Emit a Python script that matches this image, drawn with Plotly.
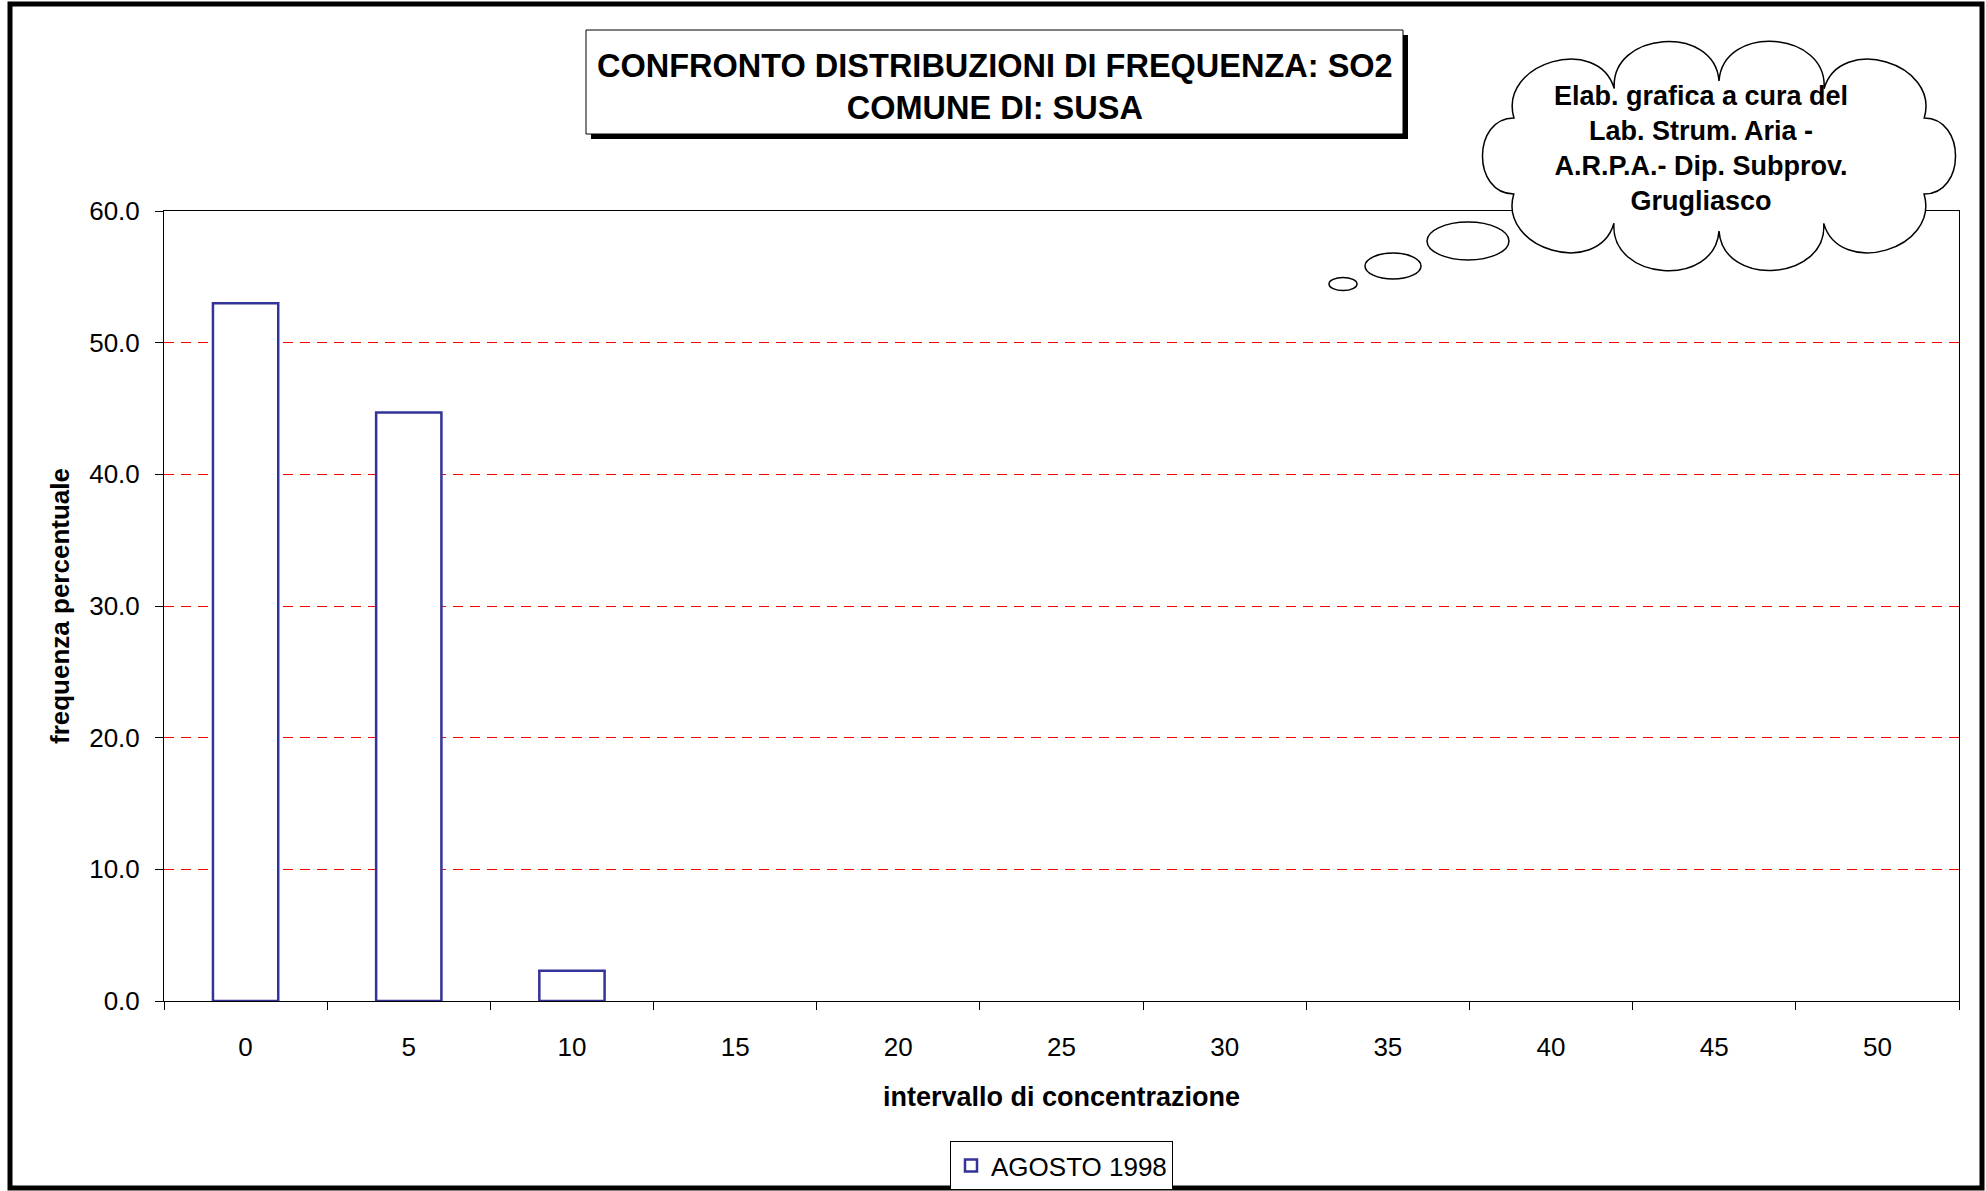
import math
import plotly.graph_objects as go

# ---- data ----
categories = ["0", "5", "10", "15", "20", "25", "30", "35", "40", "45", "50"]
freq_agosto_1998 = [53.0, 44.7, 2.3, 0, 0, 0, 0, 0, 0, 0, 0]
series_name = "AGOSTO 1998"
y_ticks = [0, 10, 20, 30, 40, 50, 60]
title_lines = ["CONFRONTO DISTRIBUZIONI DI FREQUENZA: SO2", "COMUNE DI: SUSA"]
cloud_lines = ["Elab. grafica a cura del", "Lab. Strum. Aria -", "A.R.P.A.- Dip. Subprov.", "Grugliasco"]
x_title = "intervallo di concentrazione"
y_title = "frequenza percentuale"

W, H = 1986, 1191
L, R, T, B = 164, 27, 211, 190
PW, PH = W - L - R, H - T - B
BOT = H - B

def px(x):
    return (x - L) / PW

def py(y):
    return (BOT - y) / PH

FONT = "Liberation Sans, Arial, sans-serif"
BLUE = "#333399"

fig = go.Figure()
fig.add_trace(go.Bar(
    x=categories,
    y=[v if v else None for v in freq_agosto_1998],
    name=series_name,
    marker=dict(color="white", line=dict(color=BLUE, width=2.5)),
    showlegend=True,
))

shapes = []
# outer frame
shapes.append(dict(type="rect", xref="paper", yref="paper",
                   x0=px(10), x1=px(1982), y0=py(4), y1=py(1188),
                   line=dict(color="black", width=5), fillcolor="rgba(0,0,0,0)", layer="above"))
# title box shadow + box
shapes.append(dict(type="rect", xref="paper", yref="paper",
                   x0=px(591), x1=px(1408), y0=py(35), y1=py(139),
                   line=dict(width=0), fillcolor="black", layer="above"))
shapes.append(dict(type="rect", xref="paper", yref="paper",
                   x0=px(586), x1=px(1403), y0=py(30), y1=py(134),
                   line=dict(color="black", width=1), fillcolor="white", layer="above"))

# cloud callout: scalloped ellipse, base points at equal arc length
cx, cy, rx, ry = 1719, 156, 238, 75
NB = 10
samples = 4000
ts = [2 * math.pi * i / samples for i in range(samples + 1)]
cum = [0.0]
for i in range(1, len(ts)):
    x0_, y0_ = rx * math.cos(ts[i - 1]), ry * math.sin(ts[i - 1])
    x1_, y1_ = rx * math.cos(ts[i]), ry * math.sin(ts[i])
    cum.append(cum[-1] + math.hypot(x1_ - x0_, y1_ - y0_))
total = cum[-1]
targets = sorted(((b + 0.5) / NB) * total for b in range(NB))
base_t = []
j = 0
for target in targets:
    while j < len(cum) - 1 and cum[j] < target:
        j += 1
    base_t.append(ts[j])
pts = [(cx + rx * math.cos(t), cy + ry * math.sin(t)) for t in base_t]
path = "M %.5f,%.5f" % (px(pts[0][0]), py(pts[0][1]))
for i in range(NB):
    A = pts[i]
    Bp = pts[(i + 1) % NB]
    t0 = base_t[i]
    t1 = base_t[(i + 1) % NB] + (2 * math.pi if i == NB - 1 else 0)
    tm = (t0 + t1) / 2
    nx, ny = math.cos(tm) / rx, math.sin(tm) / ry
    nn = math.hypot(nx, ny)
    nx, ny = nx / nn, ny / nn
    d = math.hypot(Bp[0] - A[0], Bp[1] - A[1])
    k = 0.55 * d
    c1 = (A[0] + nx * k, A[1] + ny * k)
    c2 = (Bp[0] + nx * k, Bp[1] + ny * k)
    path += " C %.5f,%.5f %.5f,%.5f %.5f,%.5f" % (px(c1[0]), py(c1[1]), px(c2[0]), py(c2[1]), px(Bp[0]), py(Bp[1]))
path += " Z"
shapes.append(dict(type="path", xref="paper", yref="paper", path=path,
                   line=dict(color="black", width=1.5), fillcolor="white", layer="above"))
# thought bubbles
for (bx, by, brx, bry) in [(1468, 241, 41, 19), (1393, 266, 28, 13), (1343, 284, 14, 6.5)]:
    shapes.append(dict(type="circle", xref="paper", yref="paper",
                       x0=px(bx - brx), x1=px(bx + brx), y0=py(by + bry), y1=py(by - bry),
                       line=dict(color="black", width=1.5), fillcolor="white", layer="above"))

annotations = [
    dict(xref="paper", yref="paper", x=px(994.5), y=py(87), xanchor="center", yanchor="middle",
         text="<b>" + "<br>".join(title_lines) + "</b>", showarrow=False,
         font=dict(family=FONT, size=32.5, color="black")),
    dict(xref="paper", yref="paper", x=px(1701), y=py(148), xanchor="center", yanchor="middle",
         text="<b>" + "<br>".join(cloud_lines) + "</b>", showarrow=False,
         font=dict(family=FONT, size=27, color="black")),
    dict(xref="paper", yref="paper", x=px(1061), y=py(1097), xanchor="center", yanchor="middle",
         text="<b>" + x_title + "</b>", showarrow=False,
         font=dict(family=FONT, size=27, color="black")),
    dict(xref="paper", yref="paper", x=px(60), y=py(606), xanchor="center", yanchor="middle",
         text="<b>" + y_title + "</b>", showarrow=False, textangle=-90,
         font=dict(family=FONT, size=26, color="black")),
]

fig.update_layout(
    width=W, height=H,
    margin=dict(l=L, r=R, t=T, b=B, pad=0, autoexpand=False),
    paper_bgcolor="white", plot_bgcolor="white",
    bargap=0.6,
    font=dict(family=FONT, size=26, color="black"),
    shapes=shapes,
    annotations=annotations,
    showlegend=True,
    legend=dict(orientation="h", x=0.5, xanchor="center",
                yref="container", y=1 - 1141 / H, yanchor="top",
                bordercolor="black", borderwidth=1, bgcolor="white",
                font=dict(family=FONT, size=26, color="black"),
                itemwidth=30, tracegroupgap=0),
    xaxis=dict(
        type="category", categoryorder="array", categoryarray=categories,
        showline=True, linecolor="black", linewidth=1, mirror=True,
        ticks="outside", ticklen=8, tickcolor="black", tickson="boundaries",
        showgrid=False, zeroline=False, automargin=False,
        tickfont=dict(family=FONT, size=26), ticklabelstandoff=23,
    ),
    yaxis=dict(
        range=[0, 60], tickvals=y_ticks, tickformat=".1f",
        showline=True, linecolor="black", linewidth=1, mirror=True,
        ticks="outside", ticklen=8, tickcolor="black",
        showgrid=True, gridcolor="red", gridwidth=1, griddash="10px,7px",
        zeroline=False, automargin=False,
        tickfont=dict(family=FONT, size=26), ticklabelstandoff=10,
    ),
)

fig.write_html("out.html", config={"displayModeBar": False},
               post_script="document.body.style.margin='0';")
